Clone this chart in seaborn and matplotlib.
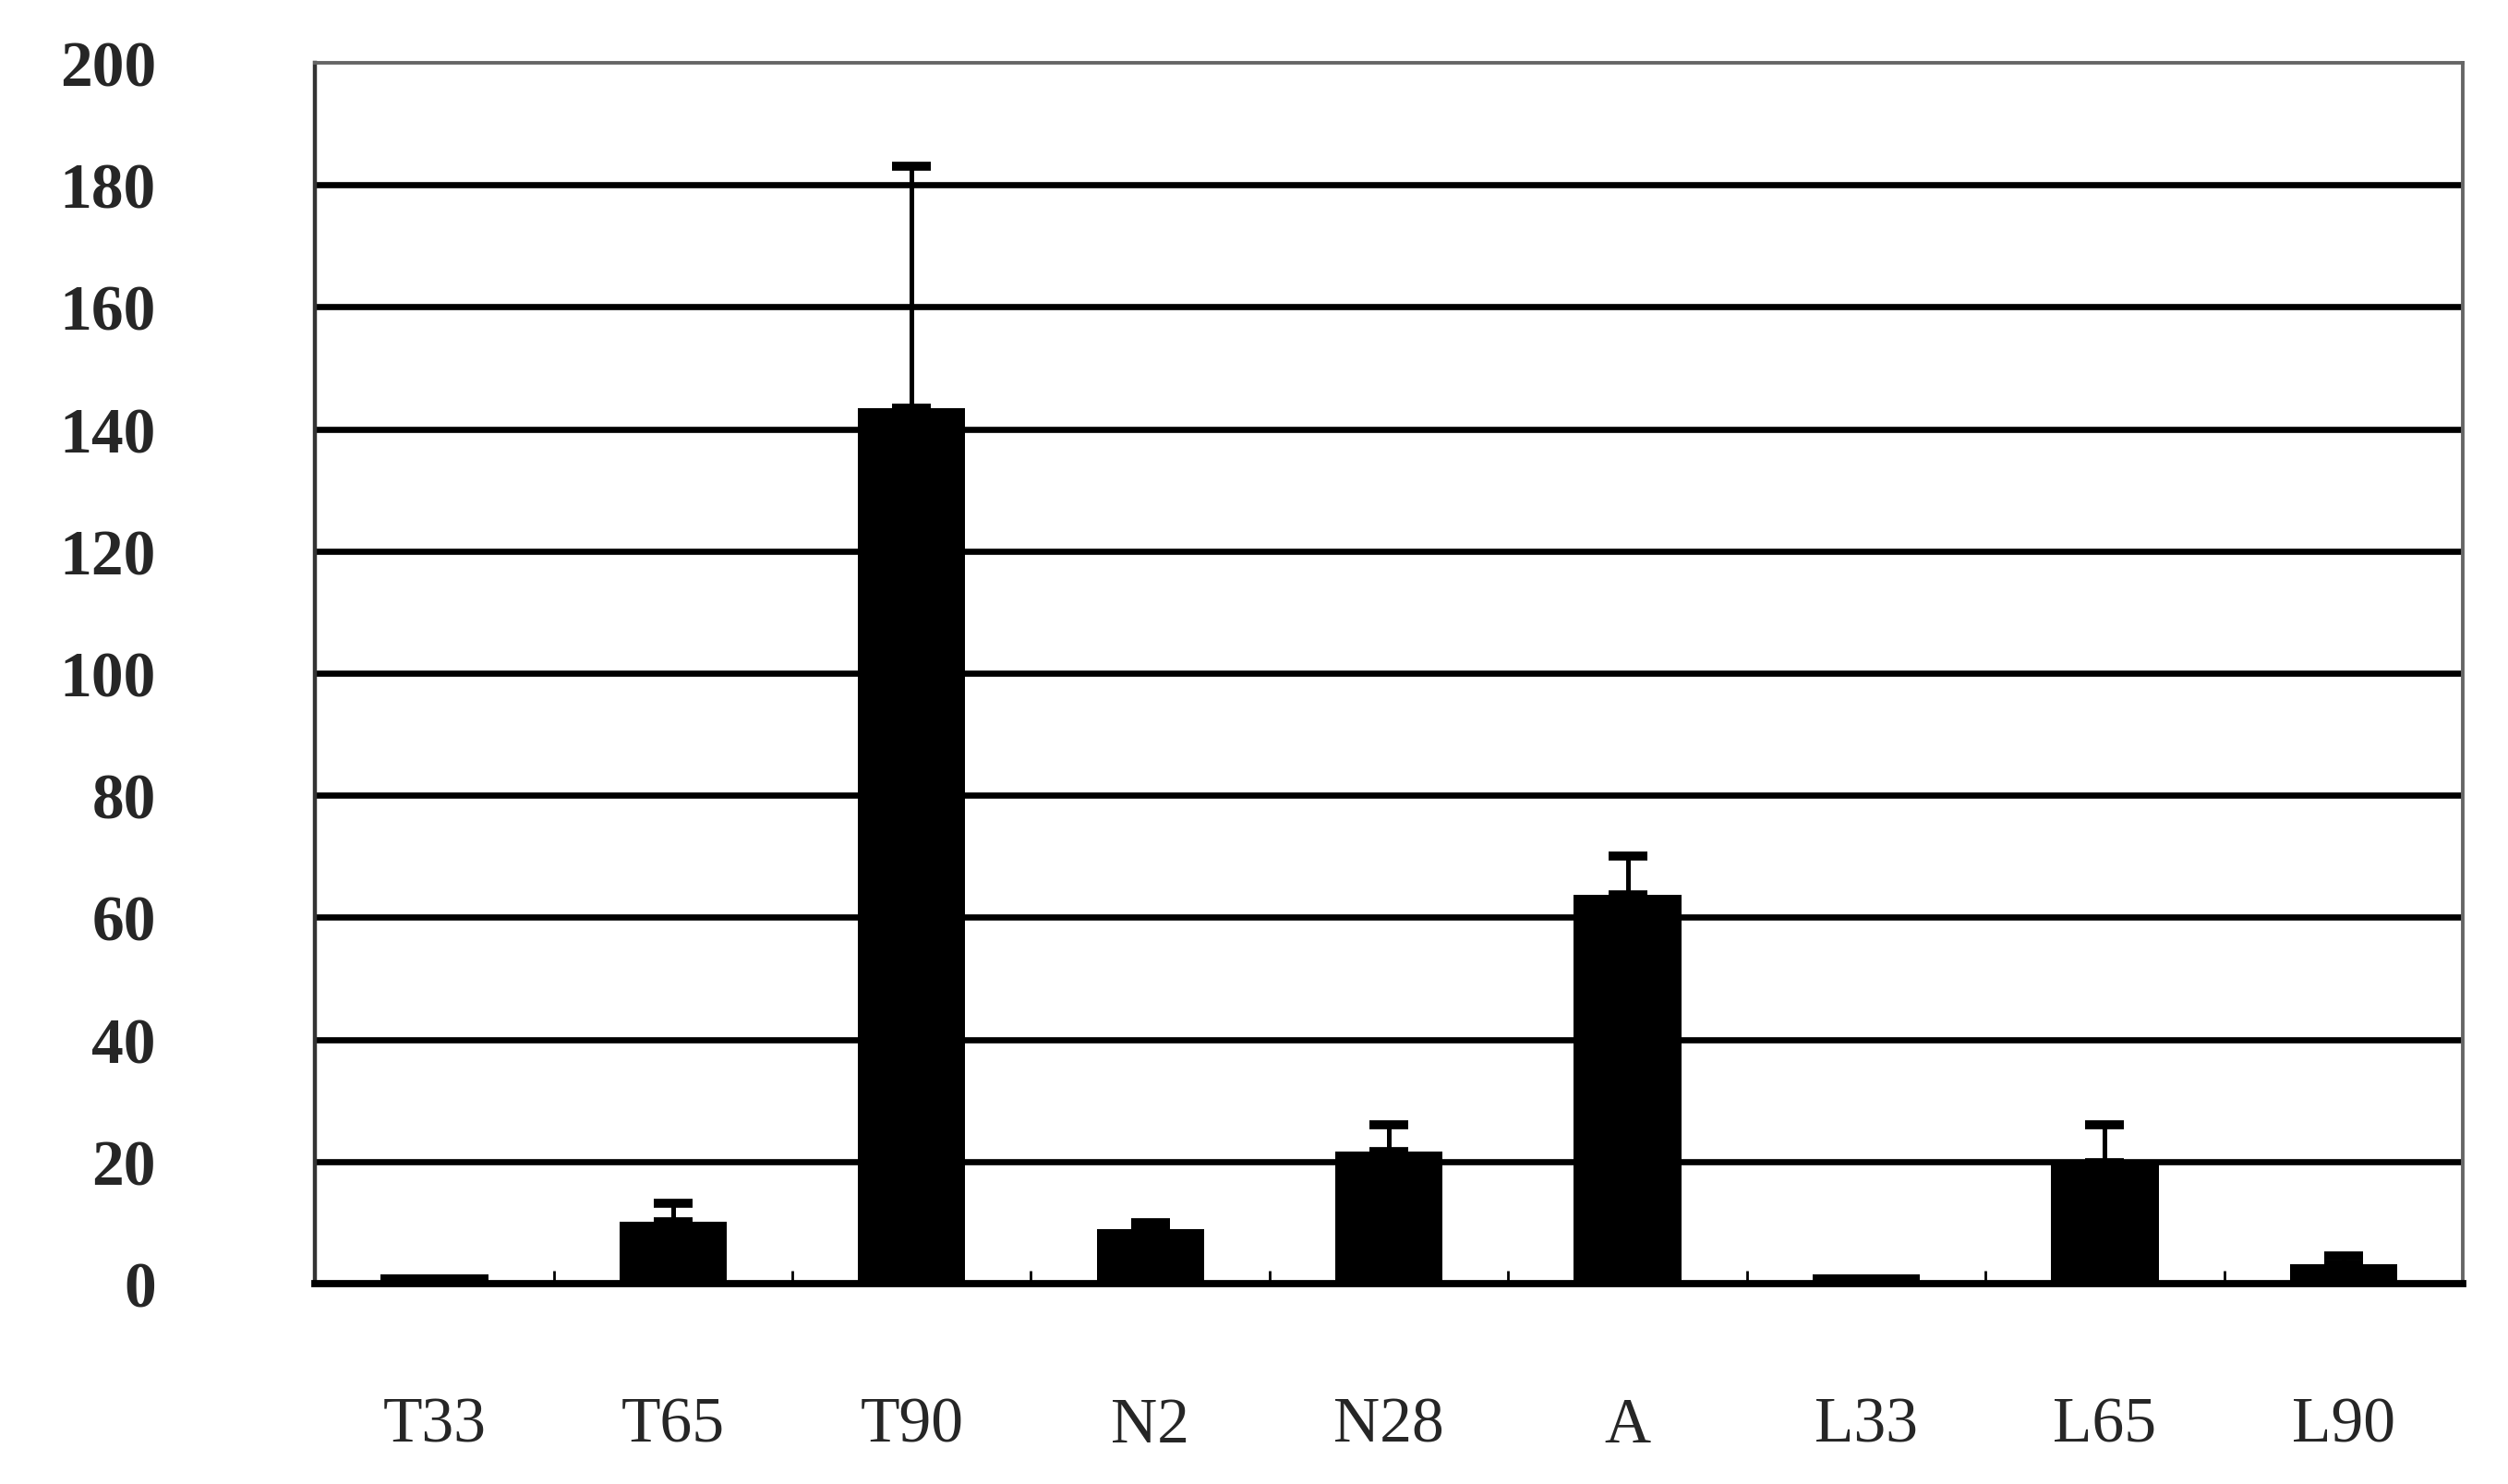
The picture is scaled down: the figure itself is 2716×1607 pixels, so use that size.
import matplotlib
matplotlib.use('Agg')
import matplotlib.pyplot as plt
import seaborn as sns
import numpy as np

# values
groups = ['T33', 'T65', 'T90', 'N2', 'N28', 'A', 'L33', 'L65', 'L90']
means = [1.5, 10.2, 143.4, 8.9, 21.6, 63.7, 1.5, 19.8, 3.2]
errors = [0.0, 2.9, 39.6, 1.0, 4.4, 6.4, 0.0, 6.2, 1.4]
yticks = [0, 20, 40, 60, 80, 100, 120, 140, 160, 180, 200]

sns.set_style('white')
plt.rcParams['font.family'] = ['Liberation Serif', 'DejaVu Serif']

fig = plt.figure(figsize=(13.58, 8.04), dpi=200)
ax = fig.add_axes([0.1256, 0.135, 0.8564, 0.822])

sns.barplot(x=groups, y=means, color='black', width=0.45, errorbar=None,
            saturation=1, linewidth=0, edgecolor='black', ax=ax, zorder=3)

# one-sided error bars, upward only (skip groups with no visible error)
pos = np.arange(len(groups))
m = np.array(means)
e = np.array(errors)
keep = e > 0
ax.errorbar(pos[keep], m[keep], yerr=[np.zeros(keep.sum()), e[keep]],
            fmt='none', ecolor='black', elinewidth=1.8, capsize=7.5,
            capthick=3.5, zorder=4)

ax.set_xlim(-0.5, len(groups) - 0.5)
ax.set_ylim(0, 200)
ax.set_yticks(yticks)
ax.set_yticklabels([str(t) for t in yticks], fontsize=25, fontweight='bold')

# horizontal gridlines
for t in yticks[1:-1]:
    ax.axhline(t, color='black', lw=2.4, zorder=2)

# category boundary ticks on the baseline
ax.set_xticks(np.arange(0.5, len(groups) - 0.5), minor=True)
ax.tick_params(axis='x', which='minor', direction='in', length=5, width=1.0,
               color='black', bottom=True)
ax.tick_params(axis='x', which='major', length=0, pad=44, labelsize=25)
ax.tick_params(axis='y', length=0, pad=62)

for side in ['top', 'right']:
    ax.spines[side].set_color('#666666')
    ax.spines[side].set_linewidth(1.4)
ax.spines['left'].set_color('#333333')
ax.spines['left'].set_linewidth(1.6)
ax.spines['bottom'].set_color('black')
ax.spines['bottom'].set_linewidth(2.8)

ax.set_xlabel('')
ax.set_ylabel('')

fig.savefig('out.png', dpi=200, facecolor='white')
